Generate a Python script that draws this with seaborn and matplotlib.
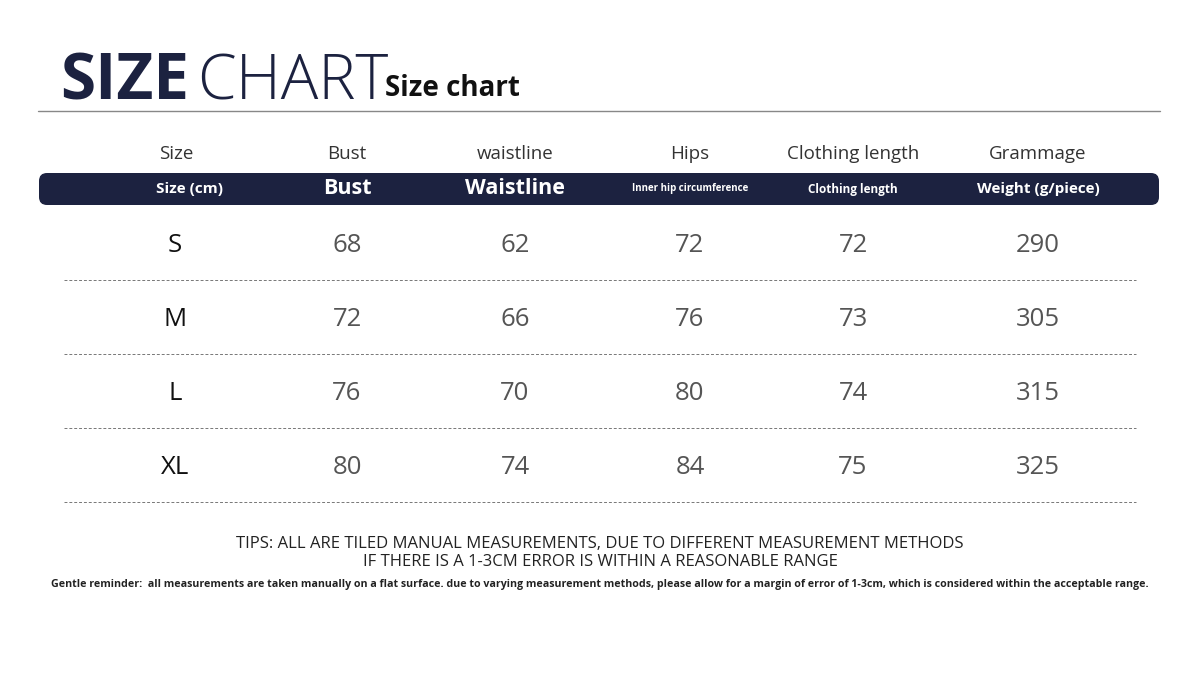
import matplotlib
matplotlib.use("Agg")
import matplotlib.pyplot as plt
import seaborn as sns
from matplotlib.patches import FancyBboxPatch

sns.set_theme(style="white")
plt.rcParams['font.family'] = ['Open Sans', 'DejaVu Sans']

sizes = ["S", "M", "L", "XL"]
bust = [68, 72, 76, 80]
waist = [62, 66, 70, 74]
hips = [72, 76, 80, 84]
length = [72, 73, 74, 75]
weight = [290, 305, 315, 325]
col_titles = ["Size", "Bust", "waistline", "Hips", "Clothing length", "Grammage"]
bar_titles = ["Size (cm)", "Bust", "Waistline", "Inner hip circumference", "Clothing length", "Weight (g/piece)"]
bar_sizes = [11, 15.5, 15.5, 7, 8.5, 11]

col_x = [176, 347, 515, 690, 853, 1038]
row_y = [245, 319, 393, 467]
navy = "#1c2240"

fig = plt.figure(figsize=(12, 6.82), dpi=100)
ax = fig.add_axes([0, 0, 1, 1])
ax.set_xlim(0, 1200)
ax.set_ylim(682, 0)
ax.axis("off")

ax.text(60, 99, "SIZE", fontsize=46, fontweight="bold", color=navy, va="baseline")
ax.text(197, 99, "CHART", fontsize=45, fontweight="light", color=navy, va="baseline")
ax.text(385, 96, "Size chart", fontsize=20, fontweight="bold", color="#111", va="baseline")
ax.plot([38, 1160], [111, 111], color="#888", lw=1)

for x, t in zip(col_x, col_titles):
    ax.text(x, 154, t, fontsize=13.5, color="#333", ha="center", va="center")

ax.add_patch(FancyBboxPatch((39, 173), 1120, 32, boxstyle="round,pad=0,rounding_size=8",
                            fc=navy, ec="none"))
for x, t, s in zip(col_x, bar_titles, bar_sizes):
    ax.text(x if t != "Size (cm)" else 190, 189, t, fontsize=s, fontweight="bold",
            color="white", ha="center", va="center")

for i, y in enumerate(row_y):
    ax.text(175, y, sizes[i], fontsize=18.5, color="#111", ha="center", va="center")
    for x, v in zip(col_x[1:], [bust[i], waist[i], hips[i], length[i], weight[i]]):
        ax.text(x, y, str(v), fontsize=18.5, color="#555", ha="center", va="center")
    ax.hlines(y + 35, 64, 1136, colors="#777", linestyles=(0, (3, 2)), lw=0.7)

ax.text(600, 544, "TIPS: ALL ARE TILED MANUAL MEASUREMENTS, DUE TO DIFFERENT MEASUREMENT METHODS",
        fontsize=12, color="#222", ha="center", va="center")
ax.text(600, 562, "IF THERE IS A 1-3CM ERROR IS WITHIN A REASONABLE RANGE",
        fontsize=12, color="#222", ha="center", va="center")
ax.text(600, 584, "Gentle reminder:  all measurements are taken manually on a flat surface. due to varying measurement methods, please allow for a margin of error of 1-3cm, which is considered within the acceptable range.",
        fontsize=7.7, fontweight="bold", color="#222", ha="center", va="center")

fig.savefig("out.png", dpi=100, facecolor="white")
